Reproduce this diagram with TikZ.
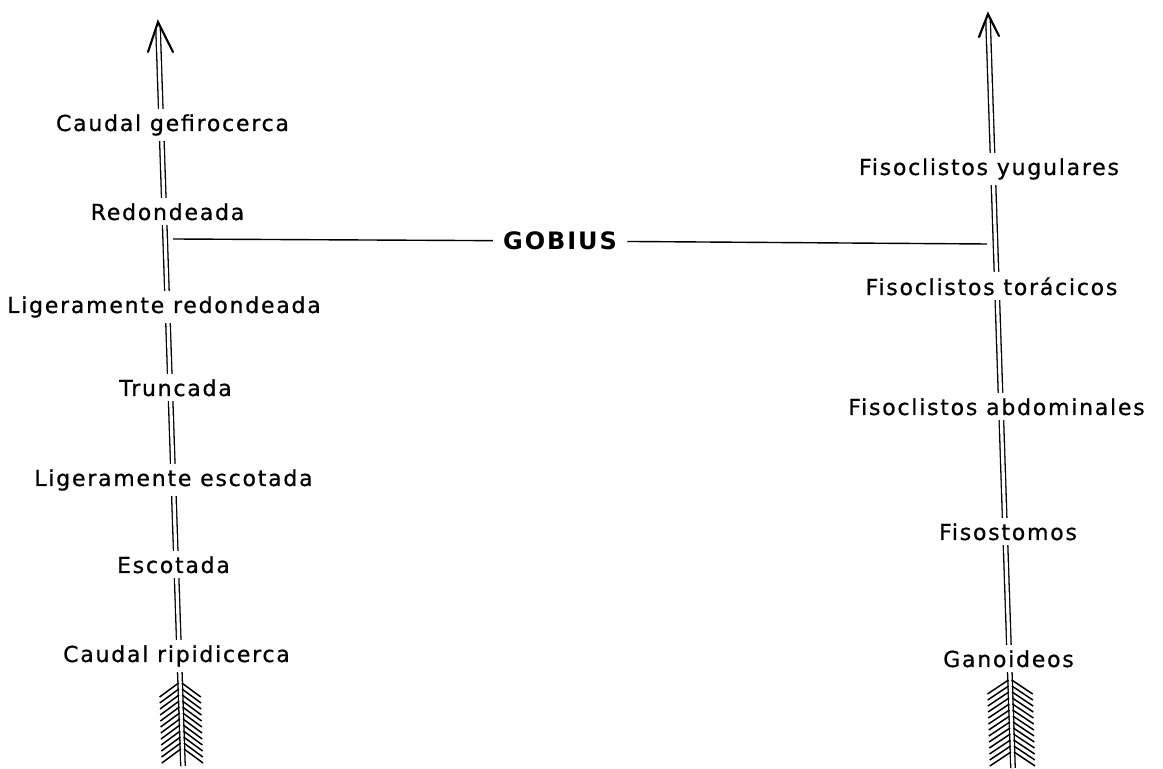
\documentclass[tikz,border=0pt]{standalone}
\usepackage{fontspec}
\setmainfont{DejaVu Sans}[LetterSpace=8]
\usepackage{tikz}
\usetikzlibrary{arrows.meta}

\tikzset{
  shaft/.style={double,double distance=1.6pt,line width=0.65pt},
  tiphead/.style={line width=1.1pt,line cap=round,line join=miter},
  barb/.style={line width=0.75pt},
  link/.style={line width=0.7pt},
  tag/.style={anchor=base,fill=white,inner xsep=1pt,inner ysep=2.5pt,font=\fontsize{11}{13}\selectfont\addfontfeature{FakeBold=0.8}},
  gobiustag/.style={fill=white,inner xsep=5pt,font=\fontsize{12}{14}\selectfont\bfseries}
}

\begin{document}
\begin{tikzpicture}[x=0.5pt,y=-0.5pt]
          \useasboundingbox (0,0) rectangle (1163,769);
          % left arrow: caudal fin
          \coordinate (ltip) at (158,22);
          \coordinate (ltail) at (183,766);
          \draw [shaft](158,27)--(ltail);
          \draw [tiphead](148,52)--(ltip)--(173,52);
          \foreach \y in {683,689,...,753}{
            \pgfmathsetmacro{\sx}{158+(\y-22)/744*25}
            \draw [barb](\sx-1.6,\y)--++(-19,14);
            \draw [barb](\sx+1.6,\y)--++(19,14);
          }
          % right arrow: swim bladder
          \coordinate (rtip) at (988,14);
          \coordinate (rtail) at (1013,768);
          \draw [shaft](988,19)--(rtail);
          \draw [tiphead](979,37)--(rtip)--(999,36);
          \foreach \y in {680,686,...,752}{
            \pgfmathsetmacro{\sx}{988+(\y-14)/754*25}
            \draw [barb](\sx-1.6,\y)--++(-21,14);
            \draw [barb](\sx+1.6,\y)--++(21,14);
          }

          \node [tag] (gefiro) at (172.5,131) {Caudal gefirocerca};
          \node [tag] (redond) at (167.5,220) {Redondeada};
          \node [tag] (ligred) at (164,313) {Ligeramente redondeada};
          \node [tag] (trunc) at (175.5,396) {Truncada};
          \node [tag] (ligesc) at (173.5,486) {Ligeramente escotada};
          \node [tag] (escot) at (173.5,573) {Escotada};
          \node [tag] (ripid) at (176.5,662) {Caudal ripidicerca};

          \node [tag] (yugul) at (989,175) {Fisoclistos yugulares};
          \node [tag] (torac) at (991.5,295) {Fisoclistos torácicos};
          \node [tag] (abdom) at (996.5,415) {Fisoclistos abdominales};
          \node [tag] (fisost) at (1008,540) {Fisostomos};
          \node [tag] (ganoid) at (1008.5,667) {Ganoideos};

          % gobius between both scales
          \coordinate (gl) at (173,239);
          \coordinate (gr) at (987,244);
          \node [gobiustag] (gobius) at (560,241) {GOBIUS};
          \draw [link](gl)--(gobius);
          \draw [link](gobius)--(gr);
\end{tikzpicture}
\end{document}
